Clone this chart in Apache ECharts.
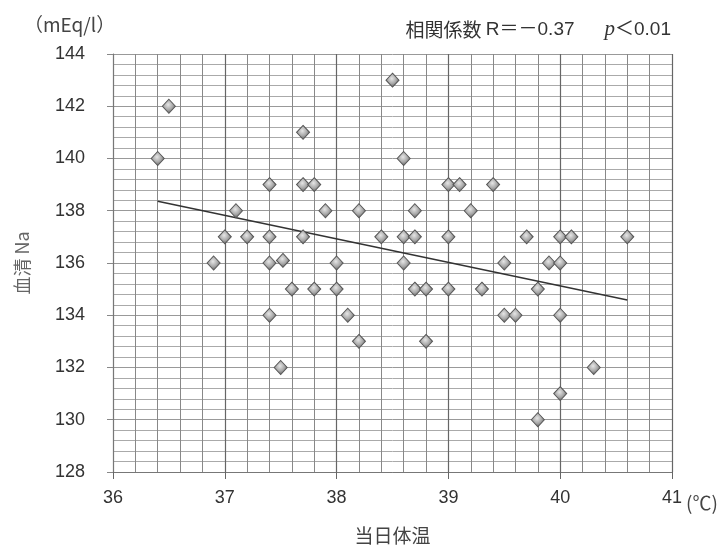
<!DOCTYPE html>
<html>
<head>
<meta charset="utf-8">
<script src="https://cdn.jsdelivr.net/npm/echarts@6/dist/echarts.min.js"></script>
<style>
html,body{margin:0;padding:0;background:#fff;}
#chart{width:726px;height:550px;}
</style>
</head>
<body>
<div id="chart"></div>
<script>
// Body temperature (°C) of each patient
const tempValues = [36.4,36.5,36.9,37.0,37.1,37.2,37.4,37.4,37.4,37.4,37.5,37.52,37.6,37.7,37.7,37.7,37.8,37.8,37.9,38.0,38.0,38.1,38.2,38.2,38.4,38.5,38.6,38.6,38.6,38.7,38.7,38.7,38.8,38.8,39.0,39.0,39.0,39.1,39.2,39.3,39.4,39.5,39.5,39.6,39.7,39.8,39.8,39.9,40.0,40.0,40.0,40.0,40.1,40.3,40.6];
// Serum Na (mEq/l) for each patient
const naValues = [140,142,136,137,138,137,139,137,136,134,132,136.1,135,141,139,137,139,135,138,136,135,134,138,133,137,143,140,137,136,138,137,135,135,133,139,137,135,139,138,135,139,136,134,134,137,135,130,136,137,136,134,131,137,132,137];
// Regression line end points (temperature, Na)
const regX = [36.4, 40.6];
const regY = [138.36, 134.58];
// Axis ranges and tick labels
const xTicks = [36,37,38,39,40,41];
const yTicks = [128,130,132,134,136,138,140,142,144];
const titleText = {r: 'R＝－0.37', p: 'p', rest: '＜0.01'};

const scatterData = tempValues.map((t,i)=>[t, naValues[i]]);
const regData = regX.map((x,i)=>[x, regY[i]]);

const FONT = '"Liberation Sans", "Noto Sans CJK JP", sans-serif';
const chart = echarts.init(document.getElementById('chart'));
chart.setOption({
  animation:false,
  backgroundColor:'#fff',
  textStyle:{fontFamily:FONT},
  grid:{left:113, right:54, top:54, bottom:74, show:false},
  title:{
    right:50, top:14,
    text:'{a|相関係数 }{b|' + titleText.r + '}{c|      }{p|' + titleText.p + '}{b|' + titleText.rest + '}',
    textStyle:{
      fontWeight:'normal',
      rich:{
        a:{fontFamily:'"Noto Sans CJK JP"', fontSize:19, fontWeight:'normal', color:'#333'},
        b:{fontFamily:FONT, fontSize:19, fontWeight:'normal', color:'#333'},
        c:{fontSize:18, fontWeight:'normal'},
        p:{fontFamily:'"Liberation Serif", serif', fontStyle:'italic', fontWeight:'normal', fontSize:21, color:'#333'}
      }
    }
  },
  graphic:[
    {type:'text', left:24, top:15, style:{text:'（mEq/l）', font:'19px "Noto Sans CJK JP", sans-serif', fill:'#444'}},
    {type:'text', left:686, top:493, style:{text:'(℃)', font:'19px "Noto Sans CJK JP", sans-serif', fill:'#444'}}
  ],
  xAxis:{
    type:'value', min:xTicks[0], max:xTicks[xTicks.length-1], interval:1,
    name:'当日体温', nameLocation:'middle', nameGap:54,
    nameTextStyle:{fontFamily:'"Noto Sans CJK JP"', fontSize:19, color:'#444'},
    axisLine:{show:true, onZero:false, lineStyle:{color:'#777', width:1}},
    axisTick:{show:true, inside:false, length:7, lineStyle:{color:'#666'}},
    axisLabel:{fontSize:18, color:'#333', margin:17},
    splitLine:{show:true, lineStyle:{color:'#666', width:1.2}},
    minorTick:{show:true, splitNumber:5, length:0},
    minorSplitLine:{show:true, lineStyle:{color:'#888', width:1}}
  },
  yAxis:{
    type:'value', min:yTicks[0], max:yTicks[yTicks.length-1], interval:2,
    name:'血清 Na', nameLocation:'middle', nameGap:82, nameRotate:90,
    nameTextStyle:{fontFamily:'"Noto Sans CJK JP"', fontSize:18, color:'#666'},
    axisLine:{show:true, onZero:false, lineStyle:{color:'#777', width:1}},
    axisTick:{show:true, inside:false, length:6, lineStyle:{color:'#888'}},
    axisLabel:{fontSize:18, color:'#333', margin:28},
    splitLine:{show:true, lineStyle:{color:'#999', width:1}},
    minorTick:{show:true, splitNumber:5, length:0},
    minorSplitLine:{show:true, lineStyle:{color:'#aaa', width:1}}
  },
  series:[
    {
      type:'line', data:regData, showSymbol:false, symbol:'none',
      lineStyle:{color:'#333', width:1.5}, z:3, silent:true
    },
    {
      type:'scatter', data:scatterData, symbol:'diamond', symbolSize:[13,14], z:4,
      itemStyle:{
        color:{type:'radial', x:0.45, y:0.4, r:0.6, colorStops:[
          {offset:0, color:'#e6e6e6'}, {offset:0.55, color:'#a8a8a8'}, {offset:1, color:'#5a5a5a'}
        ]},
        borderColor:'#555', borderWidth:1, opacity:1
      }
    }
  ]
});
</script>
</body>
</html>
